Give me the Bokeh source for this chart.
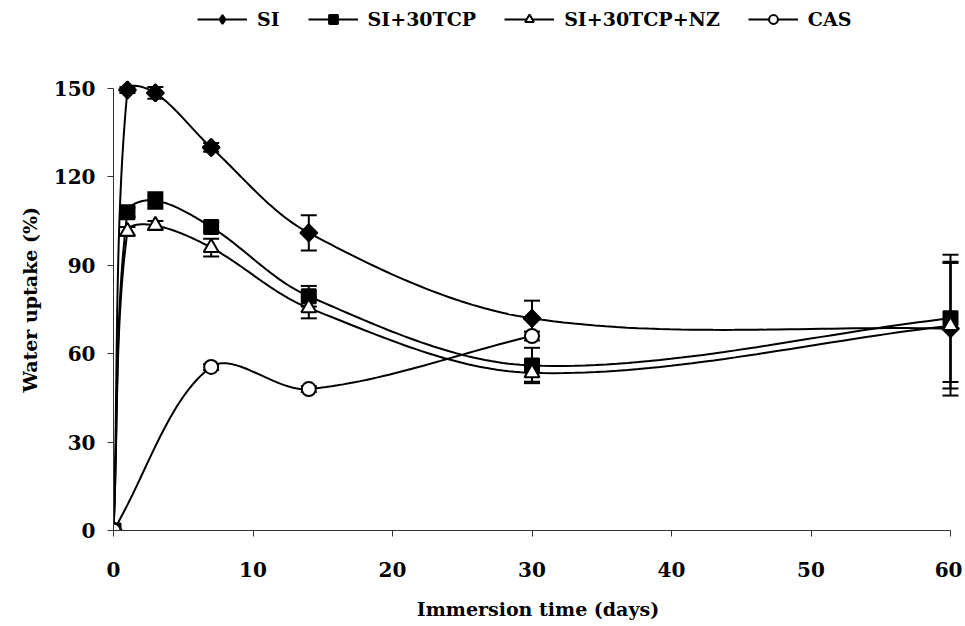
import numpy as np
from bokeh.plotting import figure
from bokeh.models import (ColumnDataSource, Legend, LegendItem, Whisker, TeeHead,
                          FixedTicker, Range1d, Title)
from bokeh.embed import file_html
from bokeh.resources import INLINE

# ---- data ----
days = [0, 1, 3, 7, 14, 30, 60]
si = [0, 149.5, 148.5, 130, 101, 72, 68.5]
si_err = [0, 1, 2, 1.5, 6, 6, 22.7]
tcp = [0, 108, 112, 103, 79.5, 56, 72]
tcp_err = [0, 1.5, 2.8, 1.5, 3.5, 6, 21.6]
nz = [0, 101.5, 103.5, 96, 75.5, 53.5, 69.5]
nz_err = [0, 1.5, 1.5, 3, 3.5, 3, 21.3]
cas_days = [0, 7, 14, 30]
cas = [0, 55.5, 48, 66]
cas_err = [0, 1, 1, 1.5]

series_names = ["SI", "SI+30TCP", "SI+30TCP+NZ", "CAS"]
x_ticks = [0, 10, 20, 30, 40, 50, 60]
y_ticks = [0, 30, 60, 90, 120, 150]
x_title = "Immersion time (days)"
y_title = "Water uptake (%)"

FONT = "DejaVu Serif"
W, H = 962, 626
ML, MB = 113, 96          # frame left / bottom borders
X_END_PX, Y_TOP_PX = 950, 88  # pixel of x=60 and y=150
SX = (X_END_PX - ML) / 60.0
SY = ((H - MB) - Y_TOP_PX) / 150.0


def smooth(xs, ys, n=40):
    """Excel-like smoothed line: Bezier segments, tangents scaled by chord length (screen space)."""
    P = np.column_stack([np.asarray(xs, float) * SX, np.asarray(ys, float) * SY])
    out = []
    t = np.linspace(0, 1, n)[:, None]
    for i in range(len(P) - 1):
        p1, p2 = P[i], P[i + 1]
        d12 = np.hypot(*(p2 - p1))
        if i > 0:
            p0 = P[i - 1]
            d01 = np.hypot(*(p1 - p0))
            c1 = p1 + (p2 - p0) * (d12 / (d01 + d12)) / 3.0
        else:
            c1 = p1 + (p2 - p1) / 3.0
        if i + 2 < len(P):
            p3 = P[i + 2]
            d23 = np.hypot(*(p3 - p2))
            c2 = p2 - (p3 - p1) * (d12 / (d12 + d23)) / 3.0
        else:
            c2 = p2 - (p2 - p1) / 3.0
        seg = ((1 - t) ** 3) * p1 + 3 * ((1 - t) ** 2) * t * c1 + 3 * (1 - t) * t * t * c2 + t ** 3 * p2
        out.append(seg if i == 0 else seg[1:])
    pts = np.vstack(out)
    return pts[:, 0] / SX, pts[:, 1] / SY


x_end = 60 + (W - X_END_PX) / SX
y_end = 150 + Y_TOP_PX / SY

p = figure(width=W, height=H, output_backend="svg", toolbar_location=None,
           x_range=Range1d(0, x_end), y_range=Range1d(0, y_end),
           min_border_left=ML, min_border_right=0, min_border_top=0, min_border_bottom=MB)
p.outline_line_color = None
p.xgrid.visible = False
p.ygrid.visible = False
p.background_fill_color = "white"

for ax in (p.xaxis[0], p.yaxis[0]):
    ax.axis_line_color = "#333333"
    ax.axis_line_width = 1
    ax.major_tick_line_color = "#333333"
    ax.major_tick_in = 0
    ax.major_tick_out = 6
    ax.minor_tick_line_color = None
    ax.major_label_text_font = FONT
    ax.major_label_text_font_style = "bold"
    ax.major_label_text_font_size = "20px"
    ax.major_label_text_color = "black"
    ax.axis_label_text_font = FONT
    ax.axis_label_text_font_style = "bold"
    ax.axis_label_text_font_size = "19px"
    ax.axis_label_text_color = "black"

p.xaxis.bounds = (0, 60)
p.yaxis.bounds = (0, 150)
p.xaxis.ticker = FixedTicker(ticks=x_ticks)
p.yaxis.ticker = FixedTicker(ticks=y_ticks)
p.xaxis.axis_label = x_title
p.xaxis.major_label_standoff = 25
p.yaxis.major_label_standoff = 12
p.xaxis.axis_label_standoff = 18

# y-axis title as a side title, anchored so it sits centred on the 0-150 axis span
ytitle = Title(text=y_title, align="left", offset=138, standoff=20,
               text_font=FONT, text_font_style="bold", text_font_size="19px",
               text_color="black")
p.add_layout(ytitle, "left")

specs = [
    (days, si, si_err, "square", "black", 12, np.pi / 4),
    (days, tcp, tcp_err, "square", "black", 14, 0),
    (days, nz, nz_err, "triangle", "white", 15, 0),
    (cas_days, cas, cas_err, "circle", "white", 14, 0),
]

items = []
for name, (xs, ys, errs, marker, fill, size, ang) in zip(series_names, specs):
    sx_, sy_ = smooth(xs, ys)
    lr = p.line(sx_, sy_, line_color="black", line_width=2)
    src = ColumnDataSource(dict(x=xs, y=ys,
                                upper=[a + b for a, b in zip(ys, errs)],
                                lower=[a - b for a, b in zip(ys, errs)]))
    w = Whisker(source=src, base="x", upper="upper", lower="lower",
                line_color="black", line_width=2,
                upper_head=TeeHead(size=16, line_width=2, line_color="black"),
                lower_head=TeeHead(size=16, line_width=2, line_color="black"))
    p.add_layout(w)
    key = None
    if ang != 0:
        # diamond drawn under the rotated squares; used as the legend swatch
        key = p.scatter("x", "y", source=src, marker="diamond", size=17,
                        fill_color=fill, line_color="black", line_width=2)
    sr = p.scatter("x", "y", source=src, marker=marker, size=size, angle=ang,
                   fill_color=fill, line_color="black", line_width=2)
    items.append(LegendItem(label=name, renderers=[lr, key if key is not None else sr]))

legend = Legend(items=items, orientation="horizontal", location=(84, 500),
                label_text_font=FONT, label_text_font_style="bold",
                label_text_font_size="19px", label_text_color="black",
                glyph_width=50, glyph_height=22, spacing=28, label_standoff=10,
                padding=0, margin=0,
                border_line_color=None, background_fill_alpha=0)
p.add_layout(legend, "center")

open("out.html", "w").write(file_html(p, INLINE))
